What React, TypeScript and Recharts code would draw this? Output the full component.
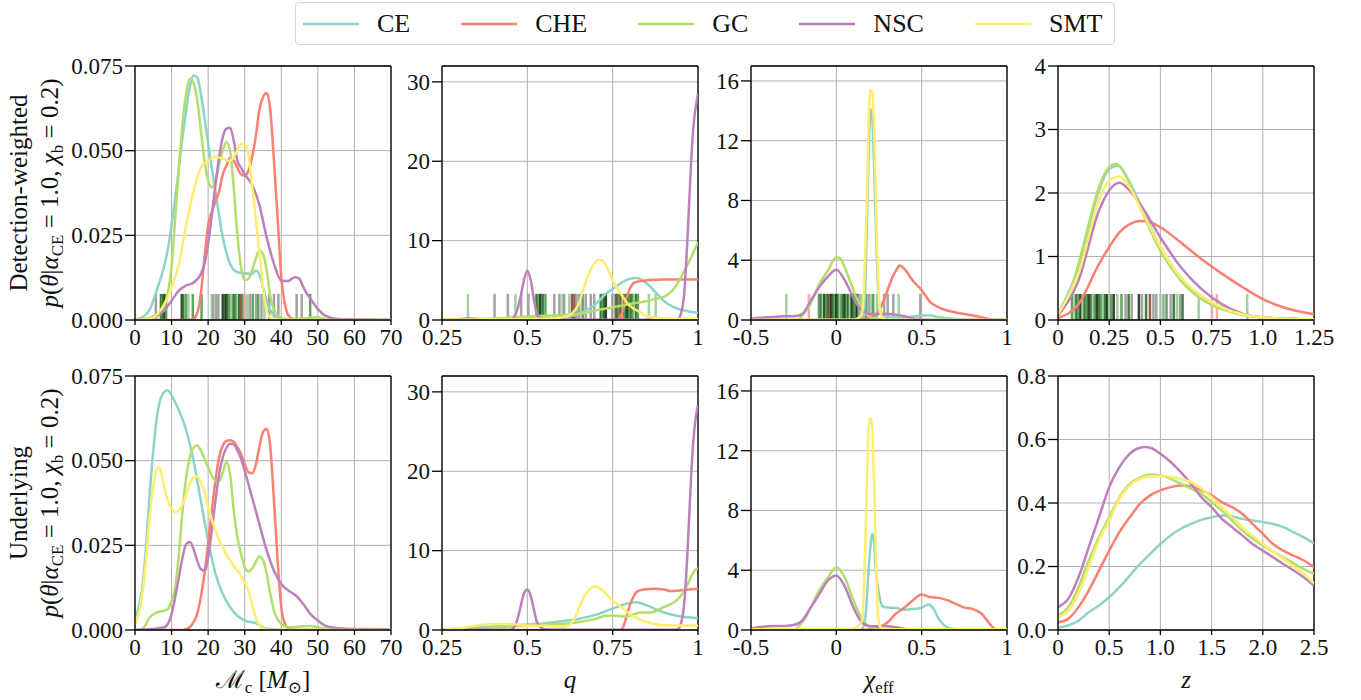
import { LineChart, Line, XAxis, YAxis, CartesianGrid, ReferenceLine, Legend } from 'recharts'

type Pt = [number, number]
type Rug = [number, string]

const FONT = '"Liberation Serif", "DejaVu Serif", serif'
const SERIES = ['CE', 'CHE', 'GC', 'NSC', 'SMT']
const COLORS = ['#8dd3c7', '#fb8072', '#b3de69', '#bc80bd', '#ffed6f']
const RUG_COLORS: Record<string, string> = {
  lg: '#99cc99', g: '#4f9a4f', dg: '#2a6e2a', k: '#1f2f1f', gy: '#999999', br: '#8b4a3a', r: '#f4a3a3',
}

// --- chirp mass, detection-weighted
const mcDetCE: Pt[] = [[0,0],[2,0.0008],[4,0.003],[6,0.009],[8,0.016],[9,0.021],[10,0.028],[11,0.036],[12,0.045],[13,0.054],[14,0.062],[15,0.069],[16,0.0722],[17,0.0717],[18,0.0668],[20,0.052],[22,0.038],[24,0.0244],[26,0.0166],[28,0.0141],[30,0.0138],[32,0.0136],[33,0.0146],[34,0.0135],[35,0.0097],[37,0.0028],[40,0.0003],[45,0],[70,0]]
const mcDetCHE: Pt[] = [[0,0],[14,0],[16,0.0004],[17,0.002],[18,0.0077],[19,0.0185],[20,0.028],[21,0.032],[22,0.035],[23,0.038],[24,0.043],[25,0.0456],[26,0.048],[27,0.047],[28,0.045],[29,0.043],[30,0.0427],[31,0.044],[32,0.048],[33,0.054],[34,0.062],[35,0.0658],[36,0.067],[37,0.062],[38,0.047],[39,0.03],[40,0.0126],[41,0.0047],[42,0.0013],[44,0],[70,0]]
const mcDetGC: Pt[] = [[0,0],[4,0.0003],[6,0.001],[8,0.004],[9,0.008],[10,0.016],[11,0.03],[12,0.045],[13,0.058],[14,0.067],[15,0.0713],[16,0.07],[17,0.065],[18,0.056],[19,0.047],[20,0.0412],[21,0.0392],[22,0.041],[23,0.046],[24,0.05],[25,0.0525],[26,0.05],[27,0.039],[28,0.025],[29,0.0155],[30,0.0118],[31,0.0121],[32,0.0146],[33,0.018],[34,0.0205],[35,0.0195],[36,0.0146],[37,0.007],[38,0.003],[39,0.0013],[41,0.0003],[45,0.0003],[48,0.0007],[50,0.0008],[52,0.0003],[55,0],[70,0]]
const mcDetNSC: Pt[] = [[0,0],[3,0.0003],[5,0.001],[8,0.0028],[10,0.0057],[12,0.0087],[14,0.0102],[16,0.011],[18,0.0136],[19,0.0166],[20,0.0225],[21,0.031],[22,0.04],[23,0.048],[24,0.054],[25,0.0565],[26,0.0568],[27,0.053],[28,0.047],[29,0.045],[30,0.043],[32,0.04],[34,0.034],[36,0.0244],[38,0.0166],[40,0.0116],[42,0.0115],[43,0.0123],[44,0.0126],[45,0.0121],[46,0.0097],[48,0.0062],[50,0.0033],[52,0.0013],[55,0.0004],[60,0.0002],[70,0]]
const mcDetSMT: Pt[] = [[0,0],[3,0.0003],[5,0.0008],[8,0.0047],[10,0.0095],[12,0.0166],[14,0.028],[16,0.038],[18,0.045],[20,0.047],[22,0.0483],[24,0.0476],[26,0.047],[28,0.05],[29,0.052],[30,0.052],[31,0.049],[32,0.04],[33,0.03],[34,0.0205],[35,0.0095],[36,0.0028],[37,0.0008],[40,0],[70,0]]
const mcRug: Rug[] = [[5.7,'gy'],[7.1,'dg'],[7.5,'g'],[7.75,'dg'],[8.2,'k'],[8.5,'g'],[12.8,'k'],[13.2,'dg'],[13.95,'g'],[14.6,'lg'],[15.8,'g'],[18.2,'g'],[21.0,'lg'],[21.4,'gy'],[22.2,'gy'],[22.8,'gy'],[24.0,'k'],[24.4,'dg'],[24.9,'k'],[25.3,'dg'],[25.8,'g'],[26.7,'g'],[27.2,'dg'],[27.6,'g'],[28.1,'lg'],[28.5,'dg'],[29.0,'br'],[29.4,'g'],[30.1,'r'],[30.7,'lg'],[31.4,'gy'],[32.2,'g'],[33.1,'gy'],[33.7,'g'],[34.6,'gy'],[35.4,'lg'],[36.7,'gy'],[38.0,'gy'],[39.2,'gy'],[44.2,'gy'],[45.6,'gy'],[47.9,'g']]

// --- mass ratio, detection-weighted
const qDetCE: Pt[] = [[0.25,0],[0.4,0.05],[0.5,0.2],[0.6,0.3],[0.65,0.8],[0.7,2.0],[0.73,3.3],[0.75,3.9],[0.78,4.8],[0.8,5.2],[0.82,5.3],[0.85,4.6],[0.88,3.3],[0.9,2.4],[0.93,1.6],[0.96,1.2],[1,0.9]]
const qDetCHE: Pt[] = [[0.25,0],[0.76,0],[0.77,0.3],[0.78,1.2],[0.79,2.7],[0.8,3.9],[0.81,4.6],[0.82,4.8],[0.85,5.0],[0.9,5.1],[0.95,5.1],[1,5.1]]
const qDetGC: Pt[] = [[0.25,0],[0.35,0.1],[0.45,0.3],[0.5,0.45],[0.55,0.55],[0.6,0.6],[0.65,0.75],[0.7,1.2],[0.75,1.6],[0.8,2.0],[0.85,2.4],[0.88,2.7],[0.9,2.9],[0.92,3.5],[0.94,4.6],[0.96,6.2],[0.98,7.9],[1,9.8]]
const qDetNSC: Pt[] = [[0.25,0],[0.3,0.1],[0.33,0.2],[0.36,0.1],[0.4,0.05],[0.45,0.05],[0.46,0.3],[0.47,1.2],[0.48,2.9],[0.49,5.0],[0.5,6.2],[0.51,5.0],[0.52,2.4],[0.53,0.5],[0.55,0.1],[0.6,0.02],[0.93,0.02],[0.94,0.1],[0.95,0.8],[0.96,3.5],[0.965,7],[0.97,11],[0.975,15.5],[0.98,20],[0.985,23.5],[0.99,25.8],[0.995,27.3],[1,28.5]]
const qDetSMT: Pt[] = [[0.25,0.05],[0.4,0.1],[0.55,0.15],[0.6,0.3],[0.63,0.8],[0.65,2.0],[0.67,4.6],[0.69,6.7],[0.71,7.6],[0.72,7.5],[0.73,6.9],[0.75,5.0],[0.78,2.9],[0.8,1.8],[0.83,1.0],[0.85,0.5],[0.9,0.2],[1,0.13]]
const qRug: Rug[] = [[0.326,'lg'],[0.404,'gy'],[0.443,'gy'],[0.465,'lg'],[0.482,'gy'],[0.503,'gy'],[0.527,'dg'],[0.532,'g'],[0.538,'k'],[0.545,'dg'],[0.553,'g'],[0.579,'gy'],[0.594,'gy'],[0.603,'lg'],[0.608,'gy'],[0.623,'lg'],[0.631,'br'],[0.638,'br'],[0.644,'gy'],[0.652,'gy'],[0.662,'g'],[0.671,'gy'],[0.686,'gy'],[0.696,'gy'],[0.715,'dg'],[0.72,'g'],[0.725,'dg'],[0.73,'k'],[0.749,'gy'],[0.759,'dg'],[0.764,'br'],[0.769,'g'],[0.774,'dg'],[0.779,'r'],[0.784,'g'],[0.789,'dg'],[0.794,'k'],[0.799,'g'],[0.804,'dg'],[0.809,'g'],[0.814,'lg'],[0.819,'dg'],[0.824,'g'],[0.856,'lg'],[0.876,'lg']]

// --- effective spin, detection-weighted
const chiDetCE: Pt[] = [[-0.5,0],[0.14,0],[0.16,0.3],[0.17,2.4],[0.18,6.9],[0.19,11.4],[0.2,14.1],[0.21,13.6],[0.22,10.7],[0.23,6.9],[0.24,3.3],[0.25,1.1],[0.27,0.3],[0.3,0.18],[0.4,0.18],[0.5,0.3],[0.55,0.3],[0.6,0.18],[0.7,0.07],[0.8,0],[1,0]]
const chiDetCHE: Pt[] = [[-0.5,0],[0.1,0],[0.15,0.03],[0.2,0.18],[0.24,0.4],[0.27,1.1],[0.3,2.0],[0.33,2.9],[0.36,3.5],[0.37,3.65],[0.4,3.4],[0.45,2.6],[0.5,2.0],[0.55,1.2],[0.6,0.85],[0.7,0.5],[0.8,0.3],[0.85,0.18],[0.9,0.05],[0.95,0],[1,0]]
const chiDetGC: Pt[] = [[-0.5,0],[-0.3,0],[-0.22,0.05],[-0.2,0.3],[-0.15,1.1],[-0.1,2.4],[-0.05,3.3],[0,4.2],[0.02,4.15],[0.05,3.5],[0.1,2.0],[0.15,0.74],[0.2,0.18],[0.25,0.05],[0.3,0],[1,0]]
const chiDetNSC: Pt[] = [[-0.5,0.1],[-0.4,0.18],[-0.3,0.25],[-0.25,0.25],[-0.2,0.4],[-0.15,1.3],[-0.1,2.2],[-0.05,2.9],[0,3.36],[0.05,2.65],[0.1,1.5],[0.15,0.63],[0.2,0.4],[0.25,0.4],[0.3,0.4],[0.35,0.36],[0.4,0.25],[0.45,0.1],[0.5,0.05],[0.6,0],[1,0]]
const chiDetSMT: Pt[] = [[-0.5,0.02],[0.1,0.02],[0.12,0.07],[0.15,0.4],[0.17,4.7],[0.18,8.7],[0.19,13.6],[0.2,15.4],[0.21,15.3],[0.22,13.2],[0.23,9.1],[0.24,4.7],[0.25,1.5],[0.26,0.4],[0.28,0.07],[0.3,0.02],[1,0]]
const chiRug: Rug[] = [[-0.293,'lg'],[-0.161,'r'],[-0.102,'g'],[-0.09,'dg'],[-0.08,'lg'],[-0.07,'k'],[-0.06,'g'],[-0.05,'dg'],[-0.04,'br'],[-0.03,'k'],[-0.02,'dg'],[-0.01,'g'],[0.0,'k'],[0.01,'dg'],[0.02,'lg'],[0.03,'g'],[0.04,'dg'],[0.05,'k'],[0.06,'g'],[0.07,'dg'],[0.08,'lg'],[0.09,'k'],[0.1,'dg'],[0.11,'g'],[0.12,'k'],[0.132,'gy'],[0.145,'lg'],[0.16,'gy'],[0.175,'g'],[0.19,'gy'],[0.205,'lg'],[0.216,'g'],[0.238,'lg'],[0.28,'gy'],[0.301,'gy'],[0.334,'gy'],[0.365,'lg'],[0.492,'gy']]

// --- redshift, detection-weighted
const zDetCE: Pt[] = [[0,0.09],[0.1,0.83],[0.2,2.04],[0.25,2.38],[0.29,2.43],[0.3,2.42],[0.35,2.17],[0.4,1.83],[0.5,1.15],[0.6,0.67],[0.7,0.36],[0.8,0.2],[0.9,0.09],[1,0.04],[1.25,0.01]]
const zDetCHE: Pt[] = [[0,0.03],[0.1,0.25],[0.2,0.88],[0.25,1.15],[0.3,1.38],[0.35,1.51],[0.4,1.56],[0.45,1.54],[0.5,1.46],[0.6,1.22],[0.7,0.96],[0.8,0.73],[0.9,0.52],[1,0.33],[1.1,0.2],[1.25,0.09]]
const zDetGC: Pt[] = [[0,0.12],[0.05,0.36],[0.1,0.88],[0.15,1.51],[0.2,2.09],[0.25,2.41],[0.28,2.46],[0.3,2.43],[0.35,2.14],[0.4,1.78],[0.5,1.09],[0.6,0.62],[0.7,0.33],[0.8,0.17],[0.9,0.08],[1,0.04],[1.25,0.01]]
const zDetNSC: Pt[] = [[0,0.07],[0.1,0.62],[0.2,1.72],[0.25,2.04],[0.3,2.16],[0.35,2.04],[0.4,1.83],[0.5,1.3],[0.6,0.83],[0.7,0.49],[0.8,0.25],[0.9,0.1],[1,0.04],[1.25,0.01]]
const zDetSMT: Pt[] = [[0,0.09],[0.1,0.73],[0.2,1.88],[0.25,2.2],[0.3,2.26],[0.35,2.09],[0.4,1.78],[0.5,1.15],[0.6,0.67],[0.7,0.38],[0.8,0.2],[0.9,0.09],[1,0.04],[1.25,0.01]]
const zRug: Rug[] = [[0.068,'g'],[0.08,'lg'],[0.09,'dg'],[0.1,'g'],[0.11,'k'],[0.12,'lg'],[0.13,'dg'],[0.14,'g'],[0.15,'k'],[0.16,'dg'],[0.17,'lg'],[0.18,'g'],[0.19,'k'],[0.2,'dg'],[0.21,'g'],[0.22,'lg'],[0.23,'dg'],[0.24,'k'],[0.25,'lg'],[0.26,'g'],[0.272,'k'],[0.29,'lg'],[0.31,'g'],[0.33,'gy'],[0.345,'dg'],[0.36,'gy'],[0.395,'k'],[0.41,'gy'],[0.43,'dg'],[0.449,'br'],[0.466,'gy'],[0.48,'gy'],[0.5,'lg'],[0.515,'gy'],[0.53,'g'],[0.55,'gy'],[0.565,'dg'],[0.58,'lg'],[0.595,'gy'],[0.608,'dg'],[0.687,'lg'],[0.752,'r'],[0.776,'r'],[0.924,'lg']]

// --- chirp mass, underlying
const mcUndCE: Pt[] = [[0,0.0037],[1,0.0067],[2,0.0126],[3,0.0244],[4,0.04],[5,0.053],[6,0.0629],[7,0.0683],[8,0.0703],[9,0.0708],[10,0.0693],[12,0.0648],[14,0.059],[16,0.05],[18,0.0382],[20,0.0264],[22,0.0166],[24,0.0106],[26,0.0067],[28,0.0042],[30,0.0028],[33,0.002],[35,0.0008],[37,0.0002],[40,0],[70,0]]
const mcUndCHE: Pt[] = [[0,0],[13,0],[14,0.0003],[15,0.0008],[16,0.0023],[17,0.0047],[18,0.0097],[19,0.0166],[20,0.0254],[21,0.0353],[22,0.0441],[23,0.051],[24,0.0545],[25,0.0558],[26,0.056],[27,0.0555],[28,0.054],[29,0.052],[30,0.049],[31,0.0466],[32,0.0463],[33,0.0486],[34,0.054],[35,0.0584],[36,0.0594],[37,0.054],[38,0.0382],[39,0.0205],[40,0.0067],[41,0.0018],[42,0.0003],[44,0],[70,0]]
const mcUndGC: Pt[] = [[0,0],[2,0.0003],[4,0.0037],[6,0.0052],[8,0.0057],[9,0.0062],[10,0.0087],[11,0.0126],[12,0.0225],[13,0.0353],[14,0.0451],[15,0.051],[16,0.0538],[17,0.0545],[18,0.053],[20,0.048],[22,0.0441],[23,0.044],[24,0.0466],[25,0.0496],[26,0.046],[27,0.0353],[28,0.0274],[29,0.0225],[30,0.0185],[31,0.0173],[32,0.018],[33,0.02],[34,0.0217],[35,0.0207],[36,0.0166],[37,0.0106],[38,0.0057],[40,0.0018],[42,0.0008],[45,0.001],[48,0.0012],[50,0.0008],[53,0.0002],[55,0],[70,0]]
const mcUndNSC: Pt[] = [[0,0],[5,0.0003],[8,0.0008],[9,0.0018],[10,0.0047],[11,0.0097],[12,0.0156],[13,0.0215],[14,0.0254],[15,0.026],[16,0.024],[17,0.0205],[18,0.018],[19,0.0175],[20,0.0215],[21,0.0294],[22,0.0382],[23,0.046],[24,0.051],[25,0.0538],[26,0.055],[27,0.0548],[28,0.053],[29,0.0506],[30,0.047],[32,0.0392],[34,0.0313],[36,0.0235],[38,0.0175],[40,0.0136],[42,0.0116],[44,0.0102],[46,0.0077],[48,0.0047],[50,0.0028],[52,0.0013],[55,0.0006],[60,0.0003],[70,0.0002]]
const mcUndSMT: Pt[] = [[0,0.0018],[1,0.0047],[2,0.0106],[3,0.0205],[4,0.0333],[5,0.0422],[6,0.0476],[6.5,0.048],[7,0.047],[8,0.0422],[9,0.0382],[10,0.0358],[11,0.0348],[12,0.0353],[13,0.0373],[14,0.04],[15,0.0432],[16,0.045],[17,0.0453],[18,0.0437],[19,0.0407],[20,0.0363],[22,0.0294],[24,0.0244],[26,0.0205],[28,0.0175],[30,0.0141],[31,0.0116],[32,0.0077],[33,0.0037],[34,0.0013],[35,0.0005],[37,0],[70,0]]

// --- mass ratio, underlying
const qUndCE: Pt[] = [[0.25,0.05],[0.3,0.17],[0.35,0.3],[0.4,0.45],[0.45,0.55],[0.5,0.7],[0.55,0.85],[0.6,1.1],[0.65,1.4],[0.7,1.9],[0.75,2.7],[0.8,3.4],[0.82,3.5],[0.85,3.1],[0.9,2.2],[0.95,1.7],[1,1.5]]
const qUndCHE: Pt[] = [[0.25,0],[0.77,0],[0.78,0.3],[0.79,1.6],[0.8,3.1],[0.81,4.1],[0.82,4.8],[0.84,5.1],[0.87,5.2],[0.9,5.1],[0.92,4.9],[0.95,5.0],[0.97,5.1],[1,5.2]]
const qUndGC: Pt[] = [[0.25,0],[0.3,0.1],[0.35,0.2],[0.4,0.3],[0.45,0.45],[0.5,0.55],[0.55,0.7],[0.6,0.76],[0.65,1.0],[0.7,1.4],[0.73,1.8],[0.75,1.8],[0.78,1.7],[0.8,1.8],[0.83,2.2],[0.86,2.2],[0.9,2.9],[0.93,3.5],[0.95,4.3],[0.97,5.8],[0.99,7.5],[1,7.8]]
const qUndNSC: Pt[] = [[0.25,0.02],[0.45,0.02],[0.46,0.3],[0.47,1.2],[0.48,2.9],[0.49,4.6],[0.5,5.1],[0.51,4.3],[0.52,2.4],[0.53,0.8],[0.55,0.1],[0.6,0.02],[0.93,0.02],[0.94,0.1],[0.95,0.8],[0.96,3.5],[0.965,6.5],[0.97,10.5],[0.975,15],[0.98,19.5],[0.985,23],[0.99,25.5],[0.995,27.2],[1,28.3]]
const qUndSMT: Pt[] = [[0.25,0.05],[0.3,0.2],[0.35,0.55],[0.4,0.76],[0.45,0.76],[0.5,0.55],[0.55,0.55],[0.6,0.4],[0.62,0.55],[0.64,1.6],[0.66,3.7],[0.68,5.0],[0.7,5.5],[0.72,5.0],[0.75,3.7],[0.78,2.7],[0.8,2.0],[0.85,1.0],[0.9,0.6],[1,0.55]]

// --- effective spin, underlying
const chiUndCE: Pt[] = [[-0.5,0],[0.14,0],[0.15,0.05],[0.17,0.85],[0.19,4.2],[0.2,5.6],[0.21,6.45],[0.22,6.0],[0.23,4.2],[0.25,2.4],[0.27,1.6],[0.3,1.5],[0.35,1.48],[0.4,1.35],[0.45,1.4],[0.5,1.5],[0.54,1.7],[0.57,1.4],[0.6,0.74],[0.65,0.18],[0.7,0.05],[0.8,0],[1,0]]
const chiUndCHE: Pt[] = [[-0.5,0],[0.15,0],[0.2,0.05],[0.25,0.18],[0.3,0.5],[0.35,1.1],[0.4,1.5],[0.45,2.0],[0.5,2.38],[0.55,2.2],[0.6,2.15],[0.65,2.0],[0.7,1.75],[0.75,1.5],[0.8,1.4],[0.85,1.1],[0.9,0.4],[0.93,0.07],[1,0]]
const chiUndGC: Pt[] = [[-0.5,0],[-0.25,0.05],[-0.2,0.5],[-0.15,1.5],[-0.1,2.65],[-0.05,3.5],[0,4.2],[0.05,3.5],[0.1,2.0],[0.15,0.74],[0.2,0.18],[0.25,0.05],[0.3,0],[1,0]]
const chiUndNSC: Pt[] = [[-0.5,0.1],[-0.4,0.25],[-0.3,0.27],[-0.25,0.33],[-0.2,0.63],[-0.15,1.5],[-0.1,2.4],[-0.05,3.3],[0,3.65],[0.05,2.9],[0.1,1.5],[0.15,0.5],[0.2,0.25],[0.3,0.25],[0.35,0.18],[0.4,0.07],[0.5,0],[1,0]]
const chiUndSMT: Pt[] = [[-0.5,0.05],[0.05,0.05],[0.1,0.1],[0.13,0.3],[0.15,0.63],[0.17,5.8],[0.18,10.3],[0.19,13.6],[0.2,14.2],[0.21,13.6],[0.22,10.3],[0.23,5.8],[0.24,2.0],[0.25,0.4],[0.27,0.1],[0.3,0.05],[1,0.05]]

// --- redshift, underlying
const zUndCE: Pt[] = [[0,0.008],[0.1,0.014],[0.2,0.029],[0.3,0.056],[0.4,0.077],[0.5,0.103],[0.6,0.135],[0.7,0.171],[0.8,0.208],[0.9,0.24],[1,0.271],[1.1,0.298],[1.2,0.319],[1.3,0.334],[1.4,0.347],[1.5,0.355],[1.6,0.361],[1.7,0.358],[1.8,0.35],[1.9,0.345],[2,0.34],[2.1,0.334],[2.2,0.324],[2.3,0.308],[2.4,0.292],[2.5,0.273]]
const zUndCHE: Pt[] = [[0,0.024],[0.1,0.035],[0.2,0.072],[0.3,0.124],[0.4,0.187],[0.5,0.25],[0.6,0.308],[0.7,0.355],[0.8,0.397],[0.9,0.424],[1,0.44],[1.1,0.45],[1.2,0.455],[1.3,0.452],[1.4,0.44],[1.5,0.424],[1.6,0.403],[1.7,0.387],[1.8,0.366],[1.9,0.334],[2,0.303],[2.1,0.271],[2.2,0.25],[2.3,0.234],[2.4,0.219],[2.5,0.198]]
const zUndGC: Pt[] = [[0,0.045],[0.1,0.072],[0.2,0.135],[0.3,0.219],[0.4,0.292],[0.5,0.355],[0.6,0.418],[0.7,0.46],[0.8,0.48],[0.9,0.49],[1,0.487],[1.1,0.476],[1.2,0.46],[1.3,0.445],[1.4,0.429],[1.5,0.403],[1.6,0.376],[1.7,0.345],[1.8,0.313],[2,0.266],[2.2,0.229],[2.4,0.192],[2.5,0.177]]
const zUndNSC: Pt[] = [[0,0.072],[0.1,0.098],[0.2,0.166],[0.3,0.26],[0.4,0.355],[0.5,0.45],[0.6,0.513],[0.7,0.555],[0.8,0.574],[0.85,0.576],[0.9,0.574],[1,0.555],[1.1,0.529],[1.2,0.497],[1.3,0.46],[1.4,0.418],[1.5,0.387],[1.6,0.35],[1.7,0.324],[1.8,0.298],[1.9,0.271],[2,0.25],[2.2,0.208],[2.4,0.166],[2.5,0.14]]
const zUndSMT: Pt[] = [[0,0.04],[0.1,0.061],[0.2,0.114],[0.3,0.198],[0.4,0.282],[0.5,0.345],[0.6,0.413],[0.7,0.455],[0.8,0.476],[0.9,0.484],[1,0.485],[1.1,0.482],[1.2,0.476],[1.3,0.466],[1.4,0.445],[1.5,0.418],[1.6,0.387],[1.7,0.355],[1.8,0.324],[2,0.271],[2.2,0.224],[2.4,0.177],[2.5,0.147]]

// axis ticks
const mcTicks = [0, 10, 20, 30, 40, 50, 60, 70]
const mcTickLabels = ['0', '10', '20', '30', '40', '50', '60', '70']
const mcYTicks = [0, 0.025, 0.05, 0.075]
const mcYTickLabels = ['0.000', '0.025', '0.050', '0.075']
const qTicks = [0.25, 0.5, 0.75, 1]
const qTickLabels = ['0.25', '0.5', '0.75', '1']
const qYTicks = [0, 10, 20, 30]
const qYTickLabels = ['0', '10', '20', '30']
const chiTicks = [-0.5, 0, 0.5, 1]
const chiTickLabels = ['-0.5', '0', '0.5', '1']
const chiYTicks = [0, 4, 8, 12, 16]
const chiYTickLabels = ['0', '4', '8', '12', '16']
const zDetTicks = [0, 0.25, 0.5, 0.75, 1, 1.25]
const zDetTickLabels = ['0', '0.25', '0.5', '0.75', '1.0', '1.25']
const zDetYTicks = [0, 1, 2, 3, 4]
const zDetYTickLabels = ['0', '1', '2', '3', '4']
const zUndTicks = [0, 0.5, 1, 1.5, 2, 2.5]
const zUndTickLabels = ['0', '0.5', '1.0', '1.5', '2.0', '2.5']
const zUndYTicks = [0, 0.2, 0.4, 0.6, 0.8]
const zUndYTickLabels = ['0.0', '0.2', '0.4', '0.6', '0.8']

// layout
const COL_X = [135, 442, 751, 1058]
const ROW_Y = [66, 376]
const PLOT_W = 256
const PLOT_H = 254
const Y_W = 75
const TOP_PAD = 12
const RIGHT_PAD = 32
const X_H = 70

interface PanelDef {
  series: Pt[][]
  xDomain: [number, number]
  xTicks: number[]
  xLabels: string[]
  yDomain: [number, number]
  yTicks: number[]
  yLabels: string[]
  rug?: Rug[]
  rugH?: number
  xTitle?: string
}

const panels: PanelDef[] = [
  { series: [mcDetCE, mcDetCHE, mcDetGC, mcDetNSC, mcDetSMT], xDomain: [0, 70], xTicks: mcTicks, xLabels: mcTickLabels, yDomain: [0, 0.075], yTicks: mcYTicks, yLabels: mcYTickLabels, rug: mcRug, rugH: 0.0077 },
  { series: [qDetCE, qDetCHE, qDetGC, qDetNSC, qDetSMT], xDomain: [0.25, 1], xTicks: qTicks, xLabels: qTickLabels, yDomain: [0, 32], yTicks: qYTicks, yLabels: qYTickLabels, rug: qRug, rugH: 3.3 },
  { series: [chiDetCE, chiDetCHE, chiDetGC, chiDetNSC, chiDetSMT], xDomain: [-0.5, 1], xTicks: chiTicks, xLabels: chiTickLabels, yDomain: [0, 17], yTicks: chiYTicks, yLabels: chiYTickLabels, rug: chiRug, rugH: 1.75 },
  { series: [zDetCE, zDetCHE, zDetGC, zDetNSC, zDetSMT], xDomain: [0, 1.25], xTicks: zDetTicks, xLabels: zDetTickLabels, yDomain: [0, 4], yTicks: zDetYTicks, yLabels: zDetYTickLabels, rug: zRug, rugH: 0.41 },
  { series: [mcUndCE, mcUndCHE, mcUndGC, mcUndNSC, mcUndSMT], xDomain: [0, 70], xTicks: mcTicks, xLabels: mcTickLabels, yDomain: [0, 0.075], yTicks: mcYTicks, yLabels: mcYTickLabels, xTitle: 'mc' },
  { series: [qUndCE, qUndCHE, qUndGC, qUndNSC, qUndSMT], xDomain: [0.25, 1], xTicks: qTicks, xLabels: qTickLabels, yDomain: [0, 32], yTicks: qYTicks, yLabels: qYTickLabels, xTitle: 'q' },
  { series: [chiUndCE, chiUndCHE, chiUndGC, chiUndNSC, chiUndSMT], xDomain: [-0.5, 1], xTicks: chiTicks, xLabels: chiTickLabels, yDomain: [0, 17], yTicks: chiYTicks, yLabels: chiYTickLabels, xTitle: 'chi' },
  { series: [zUndCE, zUndCHE, zUndGC, zUndNSC, zUndSMT], xDomain: [0, 2.5], xTicks: zUndTicks, xLabels: zUndTickLabels, yDomain: [0, 0.8], yTicks: zUndYTicks, yLabels: zUndYTickLabels, xTitle: 'z' },
]

const xy = (pts: Pt[]) => pts.map(([x, y]) => ({ x, y }))
const sub = 17

function YLabel({ title, midY }: { title: string; midY: number }) {
  const x1 = 27
  const x2 = 58
  return (
    <g fontFamily={FONT} fill="#111" fontSize={25}>
      <text x={x1} y={midY} transform={`rotate(-90 ${x1} ${midY})`} textAnchor="middle">{title}</text>
      <text x={x2} y={midY} transform={`rotate(-90 ${x2} ${midY})`} textAnchor="middle">
        <tspan fontStyle="italic">p</tspan>
        <tspan>(</tspan>
        <tspan fontStyle="italic">θ</tspan>
        <tspan>|</tspan>
        <tspan fontStyle="italic">α</tspan>
        <tspan dy={5} fontSize={sub}>CE</tspan>
        <tspan dy={-5}>{' = 1.0, '}</tspan>
        <tspan fontStyle="italic">χ</tspan>
        <tspan dy={5} fontSize={sub}>b</tspan>
        <tspan dy={-5}>{' = 0.2)'}</tspan>
      </text>
    </g>
  )
}

function XLabel({ kind, labelX, labelY }: { kind: string; labelX: number; labelY: number }) {
  return (
    <text x={labelX} y={labelY} textAnchor="middle" fontFamily={FONT} fontSize={25} fill="#111">
      {kind === 'mc' && (
        <>
          <tspan>ℳ</tspan>
          <tspan dy={5} fontSize={sub}>c</tspan>
          <tspan dy={-5}>{' ['}</tspan>
          <tspan fontStyle="italic">M</tspan>
          <tspan dy={5} fontSize={sub}>⊙</tspan>
          <tspan dy={-5}>]</tspan>
        </>
      )}
      {kind === 'q' && <tspan fontStyle="italic">q</tspan>}
      {kind === 'chi' && (
        <>
          <tspan fontStyle="italic">χ</tspan>
          <tspan dy={5} fontSize={sub}>eff</tspan>
        </>
      )}
      {kind === 'z' && <tspan fontStyle="italic">z</tspan>}
    </text>
  )
}

const renderLegend = () => (
  <div
    style={{
      boxSizing: 'border-box', width: 820, height: 43, border: '1px solid #d6d6d6', borderRadius: 4,
      background: '#fff', display: 'flex', alignItems: 'center', paddingLeft: 7,
    }}
  >
    {SERIES.map((s, i) => (
      <div key={s} style={{ display: 'flex', alignItems: 'center', marginRight: 51 }}>
        <svg width={56} height={6}>
          <line x1={0} x2={56} y1={3} y2={3} stroke={COLORS[i]} strokeWidth={2.5} />
        </svg>
        <span style={{ marginLeft: 18, fontFamily: FONT, fontSize: 26, color: '#111', lineHeight: '26px' }}>{s}</span>
      </div>
    ))}
  </div>
)

const makeXTick = (ticks: number[], labels: string[]) => (props: any) => {
  const { x, y, payload } = props
  const label = labels[ticks.indexOf(payload.value)] ?? String(payload.value)
  return (
    <text x={x} y={y} dy="0.71em" textAnchor="middle" fontFamily={FONT} fontSize={23} fill="#111">
      {label}
    </text>
  )
}

const makeYTick = (ticks: number[], labels: string[]) => (props: any) => {
  const { x, y, payload } = props
  const label = labels[ticks.indexOf(payload.value)] ?? String(payload.value)
  return (
    <text x={x} y={y} dy="0.34em" textAnchor="end" fontFamily={FONT} fontSize={23} fill="#111">
      {label}
    </text>
  )
}

function Panel({ p, idx }: { p: PanelDef; idx: number }) {
  const row = idx < 4 ? 0 : 1
  const col = idx % 4
  const marginLeft = col === 0 ? COL_X[0] - Y_W : 0
  const left = col === 0 ? 0 : COL_X[col] - Y_W
  const top = ROW_Y[row] - TOP_PAD
  const width = marginLeft + Y_W + PLOT_W + RIGHT_PAD
  const height = TOP_PAD + PLOT_H + X_H

  return (
    <div style={{ position: 'absolute', left, top, fontFamily: FONT }}>
      <LineChart width={width} height={height} margin={{ top: TOP_PAD, right: RIGHT_PAD, bottom: 0, left: marginLeft }}>
        <CartesianGrid stroke="#b0b0b0" strokeWidth={1} />
        <XAxis
          type="number"
          dataKey="x"
          domain={p.xDomain}
          ticks={p.xTicks}
          interval={0}
          allowDataOverflow
          height={X_H}
          tickSize={5}
          tickMargin={4}
          tick={makeXTick(p.xTicks, p.xLabels)}
          axisLine={{ stroke: '#000', strokeWidth: 1.3 }}
          tickLine={{ stroke: '#000', strokeWidth: 1.3 }}
          label={p.xTitle ? <XLabel kind={p.xTitle} labelX={marginLeft + Y_W + PLOT_W / 2} labelY={TOP_PAD + PLOT_H + 58} /> : undefined}
        />
        <YAxis
          type="number"
          domain={p.yDomain}
          ticks={p.yTicks}
          interval={0}
          allowDataOverflow
          width={Y_W}
          tickSize={10}
          tickMargin={2}
          tick={makeYTick(p.yTicks, p.yLabels)}
          axisLine={{ stroke: '#000', strokeWidth: 1.3 }}
          tickLine={{ stroke: '#000', strokeWidth: 1.3 }}
          label={col === 0 ? <YLabel title={row === 0 ? 'Detection-weighted' : 'Underlying'} midY={TOP_PAD + PLOT_H / 2} /> : undefined}
        />
        <ReferenceLine x={p.xDomain[1]} stroke="#000" strokeWidth={1.3} />
        <ReferenceLine y={p.yDomain[1]} stroke="#000" strokeWidth={1.3} />
        {p.rug &&
          p.rug.map(([v, c], i) => (
            <ReferenceLine
              key={`rug-${i}`}
              segment={[{ x: v, y: 0 }, { x: v, y: p.rugH ?? 0 }]}
              stroke={RUG_COLORS[c]}
              strokeWidth={2.5}
              strokeOpacity={0.9}
            />
          ))}
        {p.series.map((d, i) => (
          <Line
            key={SERIES[i]}
            name={SERIES[i]}
            data={xy(d)}
            dataKey="y"
            type="monotone"
            stroke={COLORS[i]}
            strokeWidth={2.5}
            dot={false}
            activeDot={false}
            isAnimationActive={false}
          />
        ))}
        {idx === 0 && (
          <Legend
            layout="horizontal"
            verticalAlign="middle"
            align="center"
            content={renderLegend}
            wrapperStyle={{ left: 295, top: 2 - top, width: 820, height: 43 }}
          />
        )}
      </LineChart>
    </div>
  )
}

export default function App() {
  return (
    <div style={{ position: 'absolute', left: 0, top: 0, width: 1361, height: 700, background: '#fff' }}>
      {panels.map((p, i) => (
        <Panel key={i} p={p} idx={i} />
      ))}
    </div>
  )
}
